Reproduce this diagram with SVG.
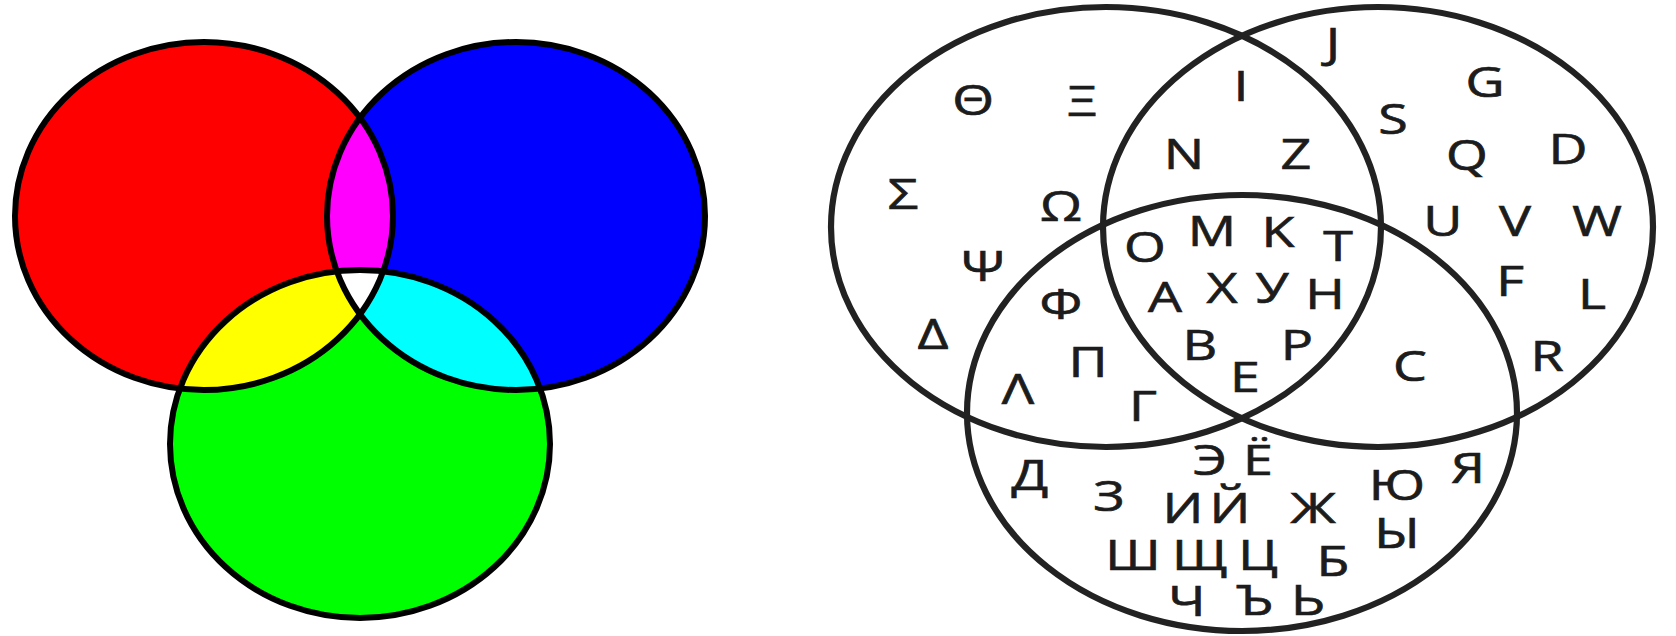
<svg xmlns="http://www.w3.org/2000/svg" width="1676" height="636" viewBox="0 0 1676 636">
<style>
.ring{fill:none;stroke:#000;stroke-width:6}
.oval{fill:none;stroke:#222;stroke-width:6.2}
.lt{font-family:"Open Sans","Noto Sans","DejaVu Sans",sans-serif;font-size:42px;fill:#1c1c1c;stroke:#1c1c1c;stroke-width:0.7;text-anchor:middle}
</style>
<defs>
<ellipse id="eR" cx="204" cy="216" rx="189" ry="174"/>
<ellipse id="eB" cx="516" cy="216" rx="189" ry="174"/>
<ellipse id="eG" cx="360" cy="444" rx="190" ry="174"/>
<clipPath id="cR"><use href="#eR"/></clipPath>
<clipPath id="cB"><use href="#eB"/></clipPath>
</defs>
<rect width="1676" height="636" fill="#fff"/>
<g id="colour-venn">
<use href="#eR" fill="#ff0000"/>
<use href="#eB" fill="#0000ff"/>
<use href="#eG" fill="#00ff00"/>
<use href="#eB" fill="#ff00ff" clip-path="url(#cR)"/>
<use href="#eG" fill="#ffff00" clip-path="url(#cR)"/>
<use href="#eG" fill="#00ffff" clip-path="url(#cB)"/>
<g clip-path="url(#cR)"><use href="#eG" fill="#ffffff" clip-path="url(#cB)"/></g>
<use href="#eR" class="ring"/>
<use href="#eB" class="ring"/>
<use href="#eG" class="ring"/>
</g>
<g id="alphabet-venn">
<ellipse class="oval" cx="1106" cy="227" rx="275" ry="220"/>
<ellipse class="oval" cx="1378" cy="227" rx="275" ry="220"/>
<ellipse class="oval" cx="1242" cy="413" rx="275" ry="218"/>
<g transform="scale(1.28 1)" class="lt">
<text x="760.2" y="115">Θ</text>
<text x="845.3" y="116">Ξ</text>
<text x="705.5" y="209">Σ</text>
<text x="828.9" y="221">Ω</text>
<text x="768.0" y="281">Ψ</text>
<text x="728.9" y="349">Δ</text>
<text x="828.9" y="319">Φ</text>
<text x="850.0" y="377">Π</text>
<text x="795.3" y="404">Λ</text>
<text x="893.0" y="421">Γ</text>
<text x="969.5" y="101">I</text>
<text x="925.0" y="169">N</text>
<text x="1012.5" y="169">Z</text>
<text x="894.5" y="262">O</text>
<text x="946.9" y="246">M</text>
<text x="998.4" y="247">K</text>
<text x="1045.3" y="261">T</text>
<text x="910.2" y="312">A</text>
<text x="954.7" y="303">X</text>
<text x="993.8" y="303">У</text>
<text x="1035.2" y="309">H</text>
<text x="937.5" y="360">B</text>
<text x="1013.3" y="360">P</text>
<text x="972.7" y="392">E</text>
<text x="1041.4" y="58">J</text>
<text x="1160.2" y="97">G</text>
<text x="1088.3" y="134">S</text>
<text x="1146.1" y="170">Q</text>
<text x="1225.0" y="164">D</text>
<text x="1127.3" y="236">U</text>
<text x="1183.6" y="236">V</text>
<text x="1247.7" y="236">W</text>
<text x="1179.7" y="296">F</text>
<text x="1243.8" y="309">L</text>
<text x="1208.6" y="371">R</text>
<text x="1101.6" y="381">C</text>
<text x="804.7" y="490">Д</text>
<text x="866.4" y="511">З</text>
<text x="945.3" y="475">Э</text>
<text x="982.8" y="475">Ё</text>
<text x="924.2" y="523">И</text>
<text x="960.9" y="523">Й</text>
<text x="1025.8" y="523">Ж</text>
<text x="1091.4" y="500">Ю</text>
<text x="1146.9" y="483">Я</text>
<text x="1091.4" y="548">Ы</text>
<text x="885.2" y="570">Ш</text>
<text x="937.5" y="570">Щ</text>
<text x="982.8" y="570">Ц</text>
<text x="1041.4" y="576">Б</text>
<text x="927.3" y="616">Ч</text>
<text x="980.5" y="615">Ъ</text>
<text x="1021.9" y="615">Ь</text>
</g>
</g>
</svg>
